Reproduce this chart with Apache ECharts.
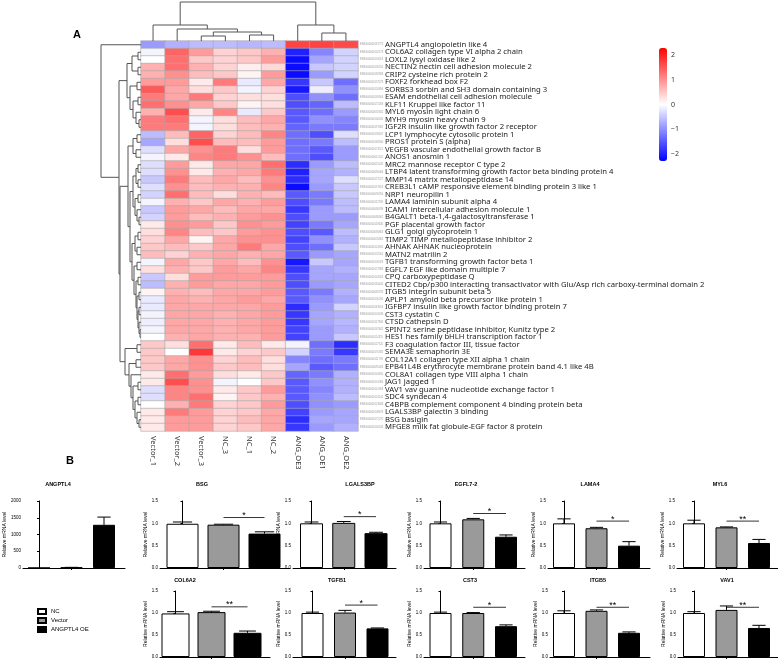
<!DOCTYPE html>
<html><head><meta charset="utf-8">
<script src="https://cdn.jsdelivr.net/npm/echarts@6/dist/echarts.min.js"></script>
<style>html,body{margin:0;padding:0;background:#fff}#c{width:778px;height:661px}</style>
</head><body><div id="c"></div>
<script>
// ---------- DATA ----------
const colLabels = ['Vector_1','Vector_2','Vector_3','NC_3','NC_1','NC_2','ANG_OE3','ANG_OE1','ANG_OE2'];
const geneIds = ['ENSG00000167772','ENSG00000142173','ENSG00000134013','ENSG00000130202','ENSG00000182809','ENSG00000137273','ENSG00000120896','ENSG00000149564','ENSG00000172059','ENSG00000092841','ENSG00000100345','ENSG00000197081','ENSG00000136167','ENSG00000184500','ENSG00000173511','ENSG00000011201','ENSG00000011028','ENSG00000090006','ENSG00000157227','ENSG00000157613','ENSG00000099250','ENSG00000112769','ENSG00000090339','ENSG00000086062','ENSG00000119630','ENSG00000090863','ENSG00000035862','ENSG00000124942','ENSG00000132561','ENSG00000105329','ENSG00000172889','ENSG00000104324','ENSG00000164442','ENSG00000082781','ENSG00000105290','ENSG00000163453','ENSG00000101439','ENSG00000117984','ENSG00000167642','ENSG00000114315','ENSG00000117525','ENSG00000170381','ENSG00000111799','ENSG00000095203','ENSG00000144810','ENSG00000101384','ENSG00000141968','ENSG00000124145','ENSG00000123843','ENSG00000108679','ENSG00000172270','ENSG00000140545'];
const geneNames = ['ANGPTL4 angiopoietin like 4','COL6A2 collagen type VI alpha 2 chain','LOXL2 lysyl oxidase like 2','NECTIN2 nectin cell adhesion molecule 2','CRIP2 cysteine rich protein 2','FOXF2 forkhead box F2','SORBS3 sorbin and SH3 domain containing 3','ESAM endothelial cell adhesion molecule','KLF11 Kruppel like factor 11','MYL6 myosin light chain 6','MYH9 myosin heavy chain 9','IGF2R insulin like growth factor 2 receptor','LCP1 lymphocyte cytosolic protein 1','PROS1 protein S (alpha)','VEGFB vascular endothelial growth factor B','ANOS1 anosmin 1','MRC2 mannose receptor C type 2','LTBP4 latent transforming growth factor beta binding protein 4','MMP14 matrix metallopeptidase 14','CREB3L1 cAMP responsive element binding protein 3 like 1','NRP1 neuropilin 1','LAMA4 laminin subunit alpha 4','ICAM1 intercellular adhesion molecule 1','B4GALT1 beta-1,4-galactosyltransferase 1','PGF placental growth factor','GLG1 golgi glycoprotein 1','TIMP2 TIMP metallopeptidase inhibitor 2','AHNAK AHNAK nucleoprotein','MATN2 matrilin 2','TGFB1 transforming growth factor beta 1','EGFL7 EGF like domain multiple 7','CPQ carboxypeptidase Q','CITED2 Cbp/p300 interacting transactivator with Glu/Asp rich carboxy-terminal domain 2','ITGB5 integrin subunit beta 5','APLP1 amyloid beta precursor like protein 1','IGFBP7 insulin like growth factor binding protein 7','CST3 cystatin C','CTSD cathepsin D','SPINT2 serine peptidase inhibitor, Kunitz type 2','HES1 hes family bHLH transcription factor 1','F3 coagulation factor III, tissue factor','SEMA3E semaphorin 3E','COL12A1 collagen type XII alpha 1 chain','EPB41L4B erythrocyte membrane protein band 4.1 like 4B','COL8A1 collagen type VIII alpha 1 chain','JAG1 jagged 1','VAV1 vav guanine nucleotide exchange factor 1','SDC4 syndecan 4','C4BPB complement component 4 binding protein beta','LGALS3BP galectin 3 binding','BSG basigin','MFGE8 milk fat globule-EGF factor 8 protein'];
// z-scores, one row per gene, columns in colLabels order
const zScores = [
[-0.9,-0.7,-0.6,-0.6,-0.65,-0.6,1.7,1.7,1.65],
[-0.1,1.4,0.9,0.4,0.5,0.7,-2.0,-1.1,-0.4],
[0.0,1.3,0.5,0.4,0.5,0.9,-2.2,-0.8,-0.4],
[0.7,1.3,0.7,0.4,0.15,0.35,-2.2,-0.5,-0.4],
[0.7,1.0,0.6,0.5,0.1,0.9,-2.2,-0.9,-0.4],
[0.9,0.9,0.2,1.2,-0.2,0.8,-1.8,-0.5,-1.3],
[1.5,0.8,0.3,0.5,-0.1,0.4,-2.1,-0.15,-1.0],
[1.2,0.8,1.2,0.4,0.3,0.3,-1.6,-1.0,-1.3],
[1.3,1.0,0.8,0.5,0.1,0.3,-1.6,-1.4,-0.6],
[0.7,1.6,0.2,1.1,-0.2,0.5,-1.5,-1.3,-0.9],
[1.2,1.3,-0.1,0.3,0.6,0.8,-1.5,-1.0,-1.1],
[1.2,1.2,-0.1,0.3,0.6,0.7,-1.4,-1.2,-1.2],
[-0.6,0.6,1.4,0.4,0.6,1.1,-1.3,-1.6,-0.3],
[-0.8,0.3,1.6,0.6,0.6,0.9,-1.3,-1.2,-0.6],
[-0.3,0.8,1.0,1.2,0.3,0.9,-1.3,-1.5,-0.9],
[-0.1,0.2,1.1,1.2,1.0,0.6,-1.3,-1.6,-0.9],
[-0.3,0.9,0.2,0.8,0.8,1.3,-1.9,-0.9,-0.6],
[-0.3,1.0,0.2,0.7,0.8,1.2,-2.0,-0.8,-0.7],
[-0.5,1.2,0.6,0.8,0.6,1.0,-1.9,-0.8,-0.3],
[-0.3,1.0,0.6,0.7,0.7,1.1,-2.2,-0.9,-0.5],
[-0.4,1.3,0.6,0.3,0.7,0.6,-1.5,-1.2,-0.5],
[-0.1,0.7,0.5,0.8,0.7,0.9,-1.6,-1.2,-0.6],
[-0.5,0.9,0.8,0.6,0.8,0.8,-1.8,-0.9,-0.6],
[-0.4,0.9,0.6,0.7,0.9,1.0,-1.6,-0.9,-0.9],
[0.2,1.0,0.9,0.5,1.0,0.9,-1.7,-1.2,-0.8],
[0.3,1.1,0.6,0.5,0.9,1.0,-1.6,-1.5,-0.6],
[0.4,0.8,0.1,0.8,1.0,1.0,-1.7,-1.0,-0.7],
[0.5,0.6,0.5,0.8,1.2,0.8,-1.6,-1.3,-0.5],
[0.6,0.4,0.7,0.8,0.7,0.8,-1.5,-0.9,-0.8],
[-0.1,0.8,0.5,0.8,0.6,1.0,-2.1,-0.5,-0.8],
[0.3,0.7,0.5,0.9,0.8,1.1,-1.8,-0.8,-0.7],
[-0.5,0.3,0.9,0.9,0.9,0.9,-1.6,-0.8,-0.8],
[-0.6,0.7,0.9,0.8,0.8,0.9,-1.6,-0.9,-0.8],
[0.1,0.7,0.6,0.8,0.8,0.9,-1.5,-1.2,-0.7],
[-0.2,0.8,0.7,0.8,0.9,0.8,-1.5,-1.0,-0.8],
[-0.2,0.8,0.8,0.8,0.8,0.9,-1.9,-0.9,-0.4],
[-0.1,0.8,0.8,0.7,0.8,0.9,-1.8,-0.8,-0.7],
[-0.15,0.8,0.8,0.7,0.8,0.9,-1.8,-0.8,-0.65],
[-0.1,0.8,0.8,0.7,0.8,0.9,-1.7,-0.9,-0.7],
[0.0,0.7,0.8,0.7,0.7,0.9,-1.7,-0.9,-0.5],
[0.5,0.3,1.3,0.2,0.6,0.2,-0.1,-1.3,-1.9],
[0.5,0.0,1.8,0.2,0.4,0.5,-0.4,-1.2,-1.8],
[0.5,0.8,1.0,0.4,0.6,0.3,-1.1,-1.3,-1.2],
[0.5,0.8,1.0,0.5,0.6,0.3,-0.8,-1.5,-1.3],
[0.2,1.3,0.9,0.3,0.2,0.5,-1.4,-1.2,-0.7],
[0.2,1.6,1.0,-0.1,0.0,0.5,-1.5,-1.0,-0.7],
[-0.3,1.1,1.0,0.2,0.5,0.9,-1.5,-1.1,-0.7],
[-0.3,1.1,1.3,0.1,0.5,0.7,-1.5,-1.0,-0.6],
[0.0,0.7,1.2,0.4,0.5,0.9,-1.6,-1.0,-0.9],
[0.2,1.2,0.9,0.4,0.5,0.8,-1.7,-0.9,-0.8],
[0.2,0.9,0.9,0.4,0.6,0.8,-1.9,-0.8,-0.8],
[0.2,0.9,0.9,0.4,0.5,0.8,-1.8,-0.9,-0.7]
];
const colorTicks = [-2,-1,0,1,2];
// dendrograms: [height, left, right]; leaves are display indices
const colTree = [39, [16, 0, [12, 1, [9, [5, 2, 3], [6, 4, 5]]]], [16, 6, [8, 7, 8]]];
const rowTreeA = [14, [9, [3,1,2], [3,3,4]], [11, [4,5,6], [8, [3,7,8], [5, 9, [2,10,11]]]]];
const rowTreeC = [13, [8, [4,12,13], [5,14,15]], [11,
  [8, [5, [3,16,17], [3,18,19]], [6, [3,20,21], [4, 22, [2,23,24]]]],
  [9, [6, [3,25,26], [4,27,28]], [7, [4,29,30], [5, [3,31,32], [4, [2,33,34], [3, [2,35,36], [2, 37, [1,38,39]]]]]]]]];
const rowTreeD = [16, [4,40,41], [12, [5,42,43], [10, 44, [8, [3,45,46], [6, [3,47,48], [4, 49, [2,50,51]]]]]]];
const rowTree = [40, 0, [22, rowTreeA, [21, rowTreeC, rowTreeD]]];

// bar panels
const barGroups = ['NC','Vector','ANGPTL4 OE'];
const panelTitles = ['ANGPTL4','BSG','LGALS3BP','EGFL7-2','LAMA4','MYL6','COL6A2','TGFB1','CST3','ITGB5','VAV1'];
const panelMeans = [[1,15,1290],[0.99,0.97,0.77],[1.0,1.01,0.78],[1.0,1.09,0.70],[1.0,0.89,0.50],[1.0,0.91,0.56],[0.99,1.02,0.55],[1.0,1.01,0.65],[1.0,1.0,0.70],[1.0,1.05,0.55],[1.0,1.07,0.66]];
const panelErrs = [[0,5,230],[0.04,0.01,0.04],[0.03,0.03,0.02],[0.03,0.02,0.04],[0.1,0.02,0.09],[0.07,0.01,0.08],[0.04,0.02,0.04],[0.02,0.05,0.01],[0.02,0.01,0.03],[0.05,0.02,0.02],[0.03,0.09,0.06]];
const panelSigY = [null,1.13,1.15,1.22,1.05,1.05,1.14,1.18,1.13,1.13,1.13];
const panelSigText = ['','*','*','*','*','**','**','*','*','**','**'];
const panelAxisMax = [2000,1.5,1.5,1.5,1.5,1.5,1.5,1.5,1.5,1.5,1.5];
const panelAxisStep = [500,0.5,0.5,0.5,0.5,0.5,0.5,0.5,0.5,0.5,0.5];

// ---------- LAYOUT (positions/styles) ----------
const panelBox = [
 {row:0, axis:23,  c0:39,    c2:104,   right:125, bw:22, tx:58},
 {row:0, axis:160, c0:182.5, c2:264.5, right:290, bw:32, tx:202},
 {row:0, axis:293, c0:311.5, c2:376,   right:396, bw:23, tx:360},
 {row:0, axis:424, c0:440.5, c2:506,   right:525, bw:22, tx:466},
 {row:0, axis:548, c0:564,   c2:629,   right:650, bw:22, tx:590},
 {row:0, axis:677, c0:694,   c2:759,   right:778, bw:22, tx:720},
 {row:1, axis:160, c0:175.5, c2:247.5, right:270, bw:28, tx:185},
 {row:1, axis:293, c0:312.5, c2:377.5, right:396, bw:22, tx:337},
 {row:1, axis:424, c0:440.5, c2:506,   right:525, bw:22, tx:470},
 {row:1, axis:550, c0:564,   c2:629,   right:650, bw:22, tx:598},
 {row:1, axis:678, c0:694,   c2:759,   right:778, bw:22, tx:727}
];
const rowTop = [501, 591], rowH = [67, 66], titleY = [484, 580];
const barColors = ['#ffffff','#9a9a9a','#000000'];

function treeSegments(node, out) {
  if (typeof node === 'number') return {pos: node, h: 0};
  const L = treeSegments(node[1], out), R = treeSegments(node[2], out);
  out.push([L.pos, L.h, R.pos, R.h, node[0]]);
  return {pos: (L.pos + R.pos) / 2, h: node[0]};
}
const colSegs = []; treeSegments(colTree, colSegs);
const rowSegs = []; treeSegments(rowTree, rowSegs);

const heatData = [];
zScores.forEach((row, r) => row.forEach((v, c) => heatData.push([c, r, v])));

const grids = [
  {left:141, top:41, width:217, height:390},
  {left:141, top:0, width:217, height:41},
  {left:100, top:41, width:41, height:390},
  {left:659, top:48, width:8, height:113}
];
const xAxes = [
  {type:'category', gridIndex:0, data:colLabels, position:'bottom',
   axisLine:{show:false}, axisTick:{show:false},
   axisLabel:{interval:0, rotate:-90, fontSize:7.5, color:'#333', margin:5, fontFamily:'Noto Sans'}},
  {type:'value', gridIndex:1, min:-0.5, max:8.5, show:false},
  {type:'value', gridIndex:2, min:0, max:41, inverse:true, show:false},
  {type:'value', gridIndex:3, min:0, max:1, show:false}
];
const yAxes = [
  {type:'category', gridIndex:0, data:geneNames, inverse:true, position:'right',
   axisLine:{show:false}, axisTick:{show:false},
   axisLabel:{interval:0, margin:2, formatter:(v, i) => '{id|' + geneIds[i] + '}{nm|' + v + '}',
     rich:{id:{fontSize:2.6, color:'#999', width:25, verticalAlign:'middle'},
           nm:{fontSize:7.7, color:'#222', fontFamily:'Noto Sans', verticalAlign:'middle'}}}},
  {type:'value', gridIndex:1, min:0, max:41, show:false},
  {type:'value', gridIndex:2, min:-0.5, max:51.5, inverse:true, show:false},
  {type:'value', gridIndex:3, position:'right', min:-2.3, max:2.3,
   axisLine:{show:false}, axisTick:{show:false}, splitLine:{show:false},
   axisLabel:{customValues:colorTicks, fontSize:7, color:'#333', margin:4, fontFamily:'Noto Sans',
     formatter:v => v < 0 ? '\u2212' + (-v) : String(v)}}
];

const series = [
  {type:'heatmap', xAxisIndex:0, yAxisIndex:0, data:heatData,
   itemStyle:{borderColor:'#a8a8a8', borderWidth:0.6}, emphasis:{disabled:true}, silent:true},
  {type:'custom', xAxisIndex:1, yAxisIndex:1, data:colSegs, clip:false, silent:true,
   renderItem:(p, api) => {
     const a = api.coord([api.value(0), api.value(1)]), b = api.coord([api.value(0), api.value(4)]);
     const c = api.coord([api.value(2), api.value(4)]), d = api.coord([api.value(2), api.value(3)]);
     return {type:'polyline', shape:{points:[a,b,c,d]}, style:{stroke:'#555', lineWidth:1, fill:null}};
   }},
  {type:'custom', xAxisIndex:2, yAxisIndex:2, data:rowSegs, clip:false, silent:true,
   renderItem:(p, api) => {
     const a = api.coord([api.value(1), api.value(0)]), b = api.coord([api.value(4), api.value(0)]);
     const c = api.coord([api.value(4), api.value(2)]), d = api.coord([api.value(3), api.value(2)]);
     return {type:'polyline', shape:{points:[a,b,c,d]}, style:{stroke:'#555', lineWidth:1, fill:null}};
   }}
];

const titles = [
  {text:'A', left:77, top:35, textAlign:'center', textVerticalAlign:'middle', padding:0,
   textStyle:{fontSize:11, fontWeight:'bold', color:'#000', fontFamily:'Liberation Sans'}},
  {text:'B', left:70, top:461, textAlign:'center', textVerticalAlign:'middle', padding:0,
   textStyle:{fontSize:11, fontWeight:'bold', color:'#000', fontFamily:'Liberation Sans'}}
];

panelBox.forEach((b, i) => {
  const gi = grids.length;
  const s = (b.c2 - b.c0) / 2;
  grids.push({left:b.axis, top:rowTop[b.row], width:b.right - b.axis, height:rowH[b.row]});
  xAxes.push({type:'value', gridIndex:gi, min:(b.axis - b.c0) / s, max:(b.right - b.c0) / s,
    axisLine:{show:true, lineStyle:{color:'#000', width:1}},
    axisTick:{show:true, customValues:[1], length:2, lineStyle:{color:'#000'}},
    axisLabel:{show:false}, splitLine:{show:false}});
  const step = panelAxisStep[i];
  yAxes.push({type:'value', gridIndex:gi, min:0, max:panelAxisMax[i], interval:step,
    name:'Relative mRNA level', nameLocation:'middle', nameRotate:90, nameGap: i === 0 ? 15 : 12,
    nameTextStyle:{fontSize:5, color:'#000', fontFamily:'Liberation Sans'},
    axisLine:{show:true, lineStyle:{color:'#000', width:1}},
    axisTick:{show:true, length:2, lineStyle:{color:'#000'}},
    axisLabel:{fontSize:4.5, color:'#000', margin:2, fontFamily:'Liberation Sans',
      formatter: v => step < 1 ? v.toFixed(1) : String(v)},
    splitLine:{show:false}});
  barGroups.forEach((g, k) => {
    series.push({type:'bar', name:g, xAxisIndex:gi, yAxisIndex:gi, stack:'p' + i, barWidth:b.bw,
      data:[[k, panelMeans[i][k]]], silent:true,
      itemStyle:{color:barColors[k], borderColor:'#000', borderWidth:1}});
  });
  series.push({type:'custom', xAxisIndex:gi, yAxisIndex:gi, clip:false, silent:true, z:5,
    data:panelMeans[i].map((v, k) => [k, v, panelErrs[i][k]]),
    renderItem:(p, api) => {
      const e = api.value(2);
      if (!(e > 0)) return null;
      const a = api.coord([api.value(0), api.value(1)]), t = api.coord([api.value(0), api.value(1) + e]);
      const w = b.bw * 0.3;
      return {type:'group', children:[
        {type:'line', shape:{x1:a[0], y1:a[1], x2:t[0], y2:t[1]}, style:{stroke:'#000', lineWidth:1}},
        {type:'line', shape:{x1:t[0]-w, y1:t[1], x2:t[0]+w, y2:t[1]}, style:{stroke:'#000', lineWidth:1}}]};
    }});
  if (panelSigY[i] !== null) {
    series.push({type:'custom', xAxisIndex:gi, yAxisIndex:gi, clip:false, silent:true, z:5,
      data:[[1, 2, panelSigY[i]]],
      renderItem:(p, api) => {
        const a = api.coord([api.value(0), api.value(2)]), c = api.coord([api.value(1), api.value(2)]);
        return {type:'group', children:[
          {type:'line', shape:{x1:a[0], y1:a[1], x2:c[0], y2:c[1]}, style:{stroke:'#000', lineWidth:0.8}},
          {type:'text', x:(a[0] + c[0]) / 2, y:a[1] + 2.5, style:{text:panelSigText[i], fontSize:9,
            fontFamily:'Liberation Sans', fill:'#000', align:'center', verticalAlign:'bottom'}}]};
      }});
  }
  titles.push({text:panelTitles[i], left:b.tx, top:titleY[b.row], textAlign:'center', textVerticalAlign:'middle', padding:0,
    textStyle:{fontSize:5.5, fontWeight:'bold', color:'#000', fontFamily:'Liberation Sans'}});
});

const option = {
  animation:false,
  backgroundColor:'#fff',
  title:titles,
  grid:grids, xAxis:xAxes, yAxis:yAxes,
  visualMap:{type:'continuous', min:-2.3, max:2.3, seriesIndex:0, orient:'vertical',
    left:659, top:48, itemWidth:8, itemHeight:113, calculable:false, padding:0, text:null,
    hoverLink:false, inRange:{color:['#0000ff','#ffffff','#ff0000']}},
  legend:{data:barGroups, left:37, top:608, orient:'vertical', itemWidth:8, itemHeight:5, itemGap:2,
    padding:0, selectedMode:false, icon:'rect',
    textStyle:{fontSize:6, color:'#000', fontFamily:'Liberation Sans'}},
  series:series
};
const chart = echarts.init(document.getElementById('c'));
chart.setOption(option);
</script></body></html>
